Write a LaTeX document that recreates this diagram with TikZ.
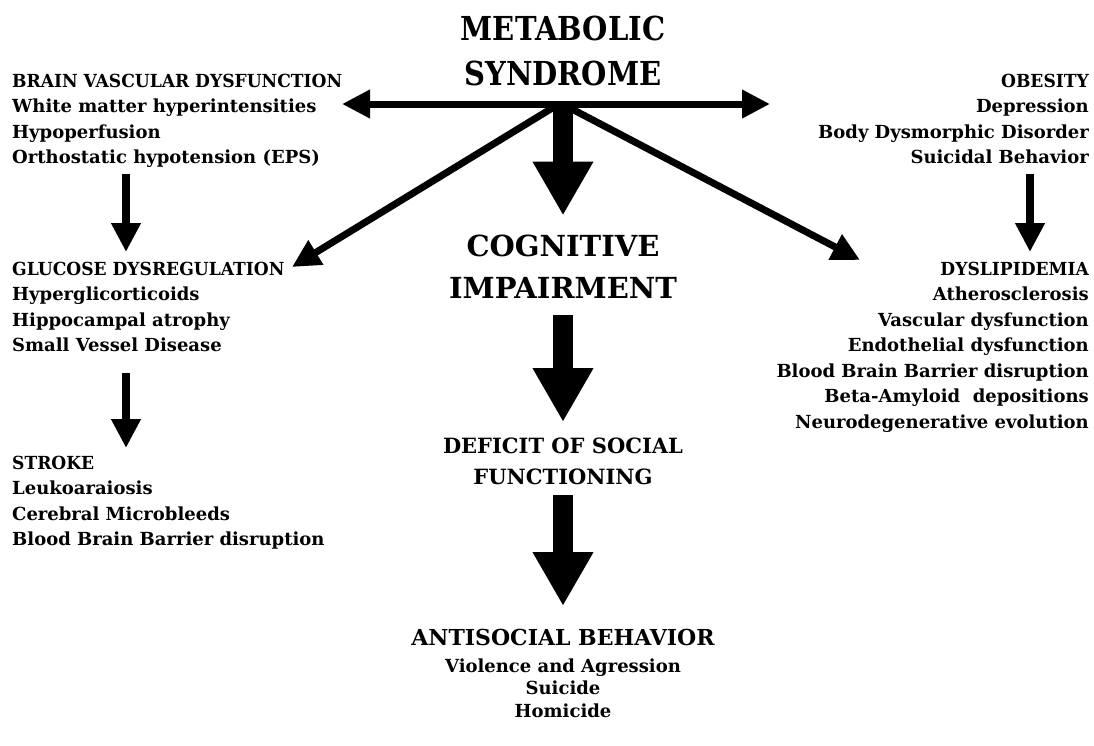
\documentclass[tikz,border=0pt]{standalone}
\usepackage{fontspec}
\setmainfont{DejaVu Serif}
\newfontfamily\condfont{DejaVu Serif}[FakeStretch=0.88]
\newfontfamily\capsfont{DejaVu Serif}[FakeStretch=0.95]
\usetikzlibrary{arrows.meta}
\tikzset{
  listtext/.style={inner sep=0pt, font=\bfseries\fontsize{18}{25.5}\selectfont},
  leftlist/.style={listtext, anchor=north west, align=left},
  rightlist/.style={listtext, anchor=north east, align=right},
  thinarrow/.style={line width=7pt, -{Triangle[length=28pt,width=27pt]}},
  smallarrow/.style={line width=8pt, -{Triangle[length=29pt,width=28pt]}},
  bigarrow/.style={line width=20pt, -{Triangle[length=54pt,width=57pt]}},
}
\begin{document}
\begin{tikzpicture}[x=1pt,y=-1pt]
\useasboundingbox (0,0) rectangle (1094,745);
% title
\node[anchor=north, align=center, inner sep=0pt, font=\condfont\bfseries\fontsize{33}{45}\selectfont] (ms) at (563,16) {METABOLIC\\SYNDROME};
% left column
\node[leftlist] (bvd) at (12,73.5) {{\capsfont BRAIN VASCULAR DYSFUNCTION}\\White matter hyperintensities\\Hypoperfusion\\Orthostatic hypotension (EPS)};
\node[leftlist] (gd) at (12,261.5) {{\capsfont GLUCOSE DYSREGULATION}\\Hyperglicorticoids\\Hippocampal atrophy\\Small Vessel Disease};
\node[leftlist] (st) at (12,455.5) {{\capsfont STROKE}\\Leukoaraiosis\\Cerebral Microbleeds\\Blood Brain Barrier disruption};
% right column
\node[rightlist] (ob) at (1089,73.5) {{\capsfont OBESITY}\\Depression\\Body Dysmorphic Disorder\\Suicidal Behavior};
\node[rightlist] (dl) at (1089,261.5) {{\capsfont DYSLIPIDEMIA}\\Atherosclerosis\\Vascular dysfunction\\Endothelial dysfunction\\Blood Brain Barrier disruption\\Beta-Amyloid\ \ depositions\\Neurodegenerative evolution};
% centre column
\node[anchor=north, align=center, inner sep=0pt, font=\bfseries\fontsize{29}{42}\selectfont] (ci) at (563,234.5) {COGNITIVE\\IMPAIRMENT};
\node[anchor=north, align=center, inner sep=0pt, font=\bfseries\fontsize{21}{31}\selectfont] (dsf) at (563,438) {DEFICIT OF SOCIAL\\FUNCTIONING};
\node[anchor=north, align=center, inner sep=0pt, font=\bfseries\fontsize{22}{28}\selectfont] (asb) at (563,629) {ANTISOCIAL BEHAVIOR};
\node[anchor=north, align=center, inner sep=0pt, font=\bfseries\fontsize{18}{22.5}\selectfont] (asl) at (563,658.5) {Violence and Agression\\Suicide\\Homicide};
% connector end points
\coordinate (hub) at (558,104);
\coordinate (lt) at (342,104);
\coordinate (rt) at (770,104);
\coordinate (dlt) at (292,267);
\coordinate (drt) at (860,260);
% connectors
\draw[thinarrow] (hub) -- (lt);
\draw[thinarrow] (hub) -- (rt);
\draw[thinarrow] ([xshift=-4pt,yshift=-3pt]hub) -- (dlt);
\draw[thinarrow] ([xshift=10pt,yshift=-3pt]hub) -- (drt);
\draw[bigarrow] ([xshift=5pt]hub) -- ([yshift=19pt]ci.north);
\draw[smallarrow] ([xshift=114pt,yshift=-6pt]bvd.south west) -- ([xshift=114pt,yshift=9.5pt]gd.north west);
\draw[smallarrow] ([xshift=114pt,yshift=-20.5pt]gd.south west) -- ([xshift=114pt,yshift=7.5pt]st.north west);
\draw[smallarrow] ([xshift=-59pt,yshift=-9.5pt]ob.south east) -- ([xshift=-59pt,yshift=9.5pt]dl.north east);
\draw[bigarrow] ([yshift=-17pt]ci.south) -- ([yshift=16pt]dsf.north);
\draw[bigarrow] ([yshift=-10pt]dsf.south) -- ([yshift=23pt]asb.north);
\end{tikzpicture}
\end{document}
